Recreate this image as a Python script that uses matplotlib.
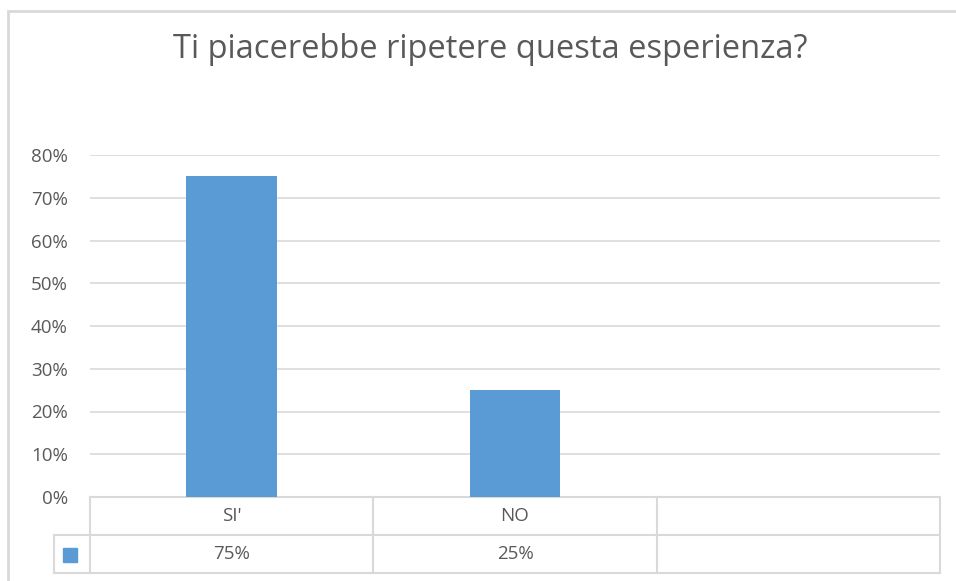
import matplotlib.pyplot as plt
import matplotlib.transforms as mtransforms
from matplotlib.patches import Rectangle

categories = ["SI'", "NO", ""]
values = [0.75, 0.25, None]
value_labels = ["75%", "25%", ""]
title = "Ti piacerebbe ripetere questa esperienza?"
yticks = [0, 0.1, 0.2, 0.3, 0.4, 0.5, 0.6, 0.7, 0.8]
ytick_labels = ["0%", "10%", "20%", "30%", "40%", "50%", "60%", "70%", "80%"]

BLUE = "#5B9BD5"
GRID = "#D9D9D9"
TXT = "#595959"

plt.rcParams['font.family'] = ['Open Sans', 'DejaVu Sans']

W, H = 956, 581
fig = plt.figure(figsize=(W / 100, H / 100), dpi=100)

# plot area in pixels: x 90..940, y 155..497 (from top)
ax = fig.add_axes([90 / W, (H - 497) / H, 850 / W, 342 / H])

xs = [i + 0.5 for i, v in enumerate(values) if v is not None]
hs = [v for v in values if v is not None]
ax.bar(xs, hs, width=0.32, color=BLUE, zorder=3)

ax.set_xlim(0, len(categories))
ax.set_ylim(0, 0.8)
ax.set_yticks(yticks)
ax.set_yticklabels(ytick_labels, color=TXT, fontsize=13.5)
ax.tick_params(axis='y', length=0, pad=16)
ax.set_xticks([])
ax.grid(axis='y', color=GRID, linewidth=1.2, zorder=0)
for s in ax.spines.values():
    s.set_visible(False)

# data table under the axis
tr = mtransforms.blended_transform_factory(ax.transData, ax.transAxes)
px = 1 / 342
row1 = -38 * px
row2 = -76 * px
leg_x = -36 / (850 / 3)
lk = dict(color=GRID, linewidth=1.5, transform=tr, clip_on=False)
n = len(categories)
ax.plot([0, n], [0, 0], **lk)
ax.plot([leg_x, n], [row1, row1], **lk)
ax.plot([leg_x, n], [row2, row2], **lk)
for i in range(n + 1):
    ax.plot([i, i], [0, row2], **lk)
ax.plot([leg_x, leg_x], [row1, row2], **lk)

for i, c in enumerate(categories):
    ax.text(i + 0.5, row1 / 2, c, transform=tr, ha='center', va='center',
            color=TXT, fontsize=13.5)
    ax.text(i + 0.5, (row1 + row2) / 2, value_labels[i], transform=tr,
            ha='center', va='center', color=TXT, fontsize=13.5)

# legend key in the table
fig.patches.append(Rectangle((63 / W, (H - 562) / H), 14 / W, 14 / H,
                             transform=fig.transFigure, color=BLUE))

# chart border
fig.patches.append(Rectangle((8 / W, -0.05), 1.1, (H - 11) / H + 0.05,
                             transform=fig.transFigure, fill=False,
                             edgecolor=GRID, linewidth=2))

fig.text(490 / W, (H - 50) / H, title, ha='center', va='center',
         color=TXT, fontsize=23.5)

fig.savefig("out.png", dpi=100)
